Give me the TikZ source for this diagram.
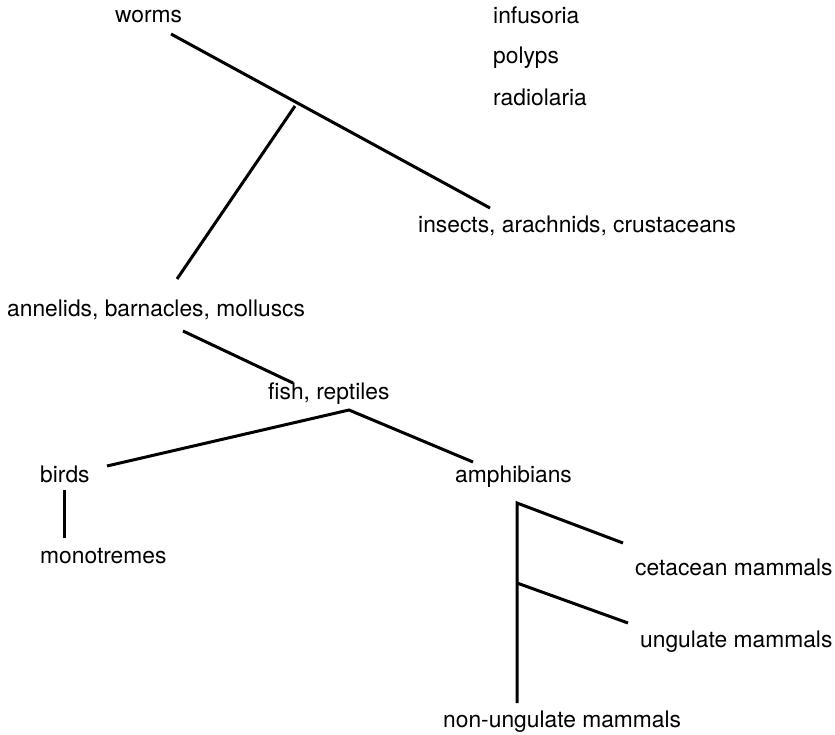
\documentclass[tikz,border=0pt]{standalone}
\usepackage{fontspec}
\setmainfont{TeX Gyre Heros}
\usepackage{tikz}

\begin{document}
\begin{tikzpicture}[x=1pt, y=-1pt, taxon/.style={inner sep=0pt, anchor=base west, font=\fontsize{22.8}{27}\selectfont}, branch/.style={line width=3pt}]
    \useasboundingbox (0,0) rectangle (835,734);

    \node[taxon] (worms)   at (115,22)  {worms};
    \node[taxon] (infus)   at (493,23)  {infusoria};
    \node[taxon] (polyps)  at (493,63)  {polyps};
    \node[taxon] (radio)   at (493,105) {radiolaria};
    \node[taxon] (insects) at (418,232) {insects, arachnids, crustaceans};
    \node[taxon] (annel)   at (7,316)   {annelids, barnacles, molluscs};
    \node[taxon] (fish)    at (268,399) {fish, reptiles};
    \node[taxon] (birds)   at (40,482)  {birds};
    \node[taxon] (monot)   at (40,563)  {monotremes};
    \node[taxon] (amphib)  at (455,482) {amphibians};
    \node[taxon] (cetac)   at (635,575) {cetacean mammals};
    \node[taxon] (ungul)   at (640,647) {ungulate mammals};
    \node[taxon] (nonung)  at (443,727) {non-ungulate mammals};

    % line ends
    \coordinate (w1) at (171,34);
    \coordinate (w2) at (490,208);
    \coordinate (j1) at (295,106);
    \coordinate (a1) at (177,279);
    \coordinate (a2) at (183,331);
    \coordinate (f1) at (293,383);
    \coordinate (f2) at (349,410);
    \coordinate (b1) at (107,466);
    \coordinate (p1) at (473,462);
    \coordinate (b2) at (64,490);
    \coordinate (m1) at (64,538);
    \coordinate (v1) at (517,503);
    \coordinate (v2) at (517,583);
    \coordinate (v3) at (517,703);
    \coordinate (c1) at (623,543);
    \coordinate (u1) at (628,623);

    \draw[branch] (w1) -- (w2);
    \draw[branch] (j1) -- (a1);
    \draw[branch] (a2) -- (f1);
    \draw[branch] (b1) -- (f2) -- (p1);
    \draw[branch] (b2) -- (m1);
    \draw[branch] (c1) -- (v1) -- (v3);
    \draw[branch] (v2) -- (u1);
\end{tikzpicture}
\end{document}
